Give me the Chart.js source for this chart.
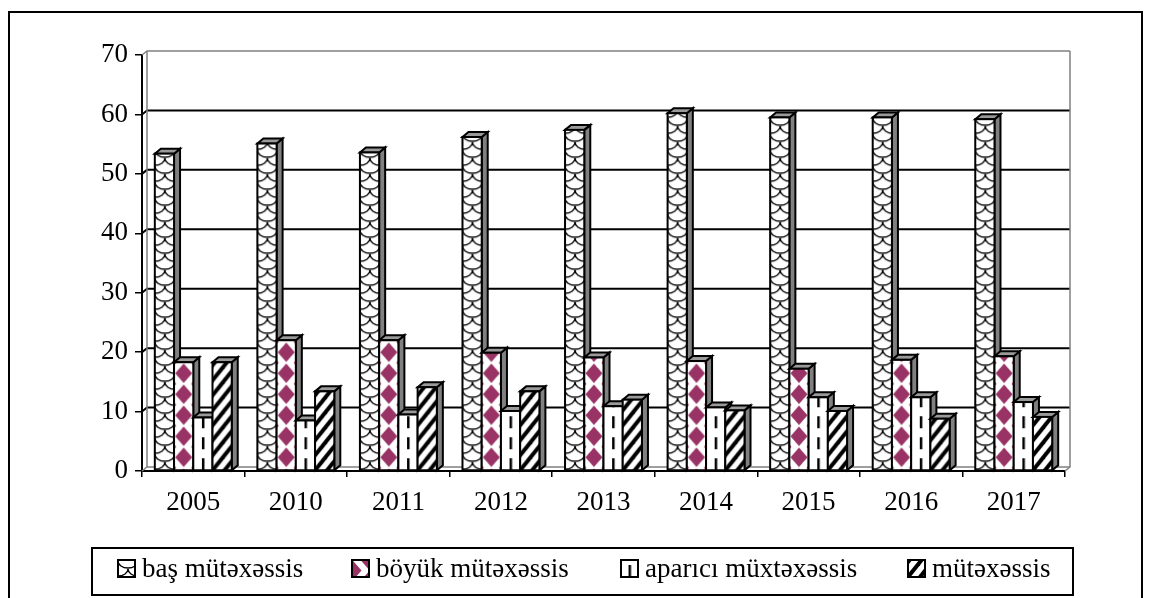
<!DOCTYPE html>
<html>
<head>
<meta charset="utf-8">
<title>Mütəxəssislər, 2005–2017</title>
<script src="https://cdn.jsdelivr.net/npm/chart.js@4.4.1/dist/chart.umd.min.js"></script>
<style>
  html, body { margin: 0; padding: 0; background: #fff; }
  #wrap { width: 1150px; height: 598px; position: relative; background: #fff; }
  canvas { display: block; }
</style>
</head>
<body>
<div id="wrap"><canvas id="chart" width="1150" height="598"></canvas></div>
<script>
// ---- data ----
const years = ['2005', '2010', '2011', '2012', '2013', '2014', '2015', '2016', '2017'];
const seriesNames = ['baş mütəxəssis', 'böyük mütəxəssis', 'aparıcı müxtəxəssis', 'mütəxəssis'];
const basMutexessis   = [53.4, 55.1, 53.6, 56.2, 57.4, 60.2, 59.5, 59.5, 59.2];
const boyukMutexessis = [18.3, 22.0, 22.0, 19.9, 19.1, 18.5, 17.2, 18.7, 19.3];
const apariciMutexessis = [9.0, 8.5, 9.5, 10.1, 10.9, 10.7, 12.4, 12.4, 11.6];
const mutexessis      = [18.3, 13.4, 14.1, 13.4, 12.0, 10.2, 10.1, 8.8, 9.1];
const yTicks = [0, 10, 20, 30, 40, 50, 60, 70];

// ---- look ----
const FONT = '"Liberation Serif", "Times New Roman", serif';
const BAR_DX = 6, BAR_DY = 5;     // bar depth (side / top faces)
const WALL_DX = 5, WALL_DY = 4;   // back wall offset
const WALL_GREY = '#808080';

const canvas = document.getElementById('chart');
const ctx = canvas.getContext('2d');

function tile(w, h, paint) {
  const c = document.createElement('canvas');
  c.width = w; c.height = h;
  const g = c.getContext('2d');
  g.fillStyle = '#fff';
  g.fillRect(0, 0, w, h);
  paint(g, w, h);
  return c;
}

// scale-like arcs
const scalesTile = tile(20, 16, (g, w, h) => {
  g.strokeStyle = '#000';
  g.lineWidth = 1.3;
  for (const ox of [-w, 0, w]) for (const oy of [-h, 0, h]) {
    for (const [cx, cy] of [[w / 2, 0], [0, h / 2]]) {
      g.beginPath();
      g.ellipse(cx + ox, cy + oy, w / 2, h / 2 - 1, 0, 0, Math.PI);
      g.stroke();
    }
  }
});
// solid diamonds
const diamondTile = tile(32, 21, (g, w, h) => {
  g.fillStyle = '#993366';
  const hw = 8.5, hh = 9.8;
  for (const [cx, cy] of [[16, 10.5], [0, 0], [32, 0], [0, 21], [32, 21]]) {
    g.beginPath();
    g.moveTo(cx, cy - hh); g.lineTo(cx + hw, cy); g.lineTo(cx, cy + hh); g.lineTo(cx - hw, cy);
    g.closePath(); g.fill();
  }
});
// dashed vertical
const dashTile = tile(40, 21, (g) => {
  g.fillStyle = '#000';
  g.fillRect(19, 0, 2.5, 12);
});
// wide upward diagonal
const stripeTile = tile(12, 15, (g, w, h) => {
  g.strokeStyle = '#000';
  g.lineWidth = 4;
  for (const ox of [-w, 0, w]) {
    g.beginPath();
    g.moveTo(ox - 2, h + 2.5); g.lineTo(ox + w + 2, -2.5);
    g.stroke();
  }
});

const fills = [
  { pattern: ctx.createPattern(scalesTile, 'repeat'),  origin: (l, r, b) => [l, b] },
  { pattern: ctx.createPattern(diamondTile, 'repeat'), origin: (l, r, b) => [(l + r) / 2 - 16, b - 23.5] },
  { pattern: ctx.createPattern(dashTile, 'repeat'),    origin: (l, r, b) => [(l + r) / 2 - 20, b - 12] },
  { pattern: ctx.createPattern(stripeTile, 'repeat'),  origin: (l, r, b) => [l, b] }
];

function placePattern(i, l, r, b) {
  const [tx, ty] = fills[i].origin(l, r, b);
  fills[i].pattern.setTransform(new DOMMatrix([1, 0, 0, 1, tx, ty]));
  return fills[i].pattern;
}

// back wall, floor and side wall with grid lines
const wallPlugin = {
  id: 'wall3d',
  beforeDatasetsDraw(chart) {
    const c = chart.ctx, a = chart.chartArea, ys = chart.scales.y;
    c.save();
    c.lineCap = 'butt';
    const first = yTicks[0], last = yTicks[yTicks.length - 1];
    yTicks.forEach(v => {
      const py = ys.getPixelForValue(v);
      const edge = (v === first || v === last);
      c.strokeStyle = edge ? WALL_GREY : '#000';
      c.lineWidth = edge ? 1.5 : 2;
      c.beginPath();
      c.moveTo(a.left, py);
      c.lineTo(a.left + WALL_DX, py - WALL_DY);
      c.lineTo(a.right + WALL_DX, py - WALL_DY);
      c.stroke();
    });
    const top = ys.getPixelForValue(last) - WALL_DY, bot = ys.getPixelForValue(first) - WALL_DY;
    c.strokeStyle = WALL_GREY;
    c.lineWidth = 1.5;
    c.beginPath();
    c.moveTo(a.left + WALL_DX, top); c.lineTo(a.left + WALL_DX, bot);
    c.moveTo(a.right + WALL_DX, top); c.lineTo(a.right + WALL_DX, bot);
    c.lineTo(a.right, bot + WALL_DY);
    c.stroke();
    c.restore();
  }
};

// columns drawn as boxes: front (pattern), right side and top faces
const columnPlugin = {
  id: 'columns3d',
  beforeDatasetsDraw(chart) {
    const c = chart.ctx;
    const metas = chart.data.datasets.map((d, i) => chart.getDatasetMeta(i));
    c.save();
    c.strokeStyle = '#000';
    c.lineWidth = 2;
    c.lineJoin = 'miter';
    for (let j = 0; j < years.length; j++) {
      metas.forEach((meta, i) => {
        const el = meta.data[j];
        if (!el) return;
        const { x, y, base, width } = el.getProps(['x', 'y', 'base', 'width'], true);
        const l = x - width / 2, r = x + width / 2, t = y, b = base;
        // side face
        c.beginPath();
        c.moveTo(r, t); c.lineTo(r + BAR_DX, t - BAR_DY); c.lineTo(r + BAR_DX, b - BAR_DY); c.lineTo(r, b);
        c.closePath();
        c.fillStyle = '#808080'; c.fill(); c.stroke();
        // top face
        c.beginPath();
        c.moveTo(l, t); c.lineTo(l + BAR_DX, t - BAR_DY); c.lineTo(r + BAR_DX, t - BAR_DY); c.lineTo(r, t);
        c.closePath();
        c.fillStyle = '#9a9a9a'; c.fill(); c.stroke();
        // front face
        c.fillStyle = placePattern(i, l, r, b);
        c.fillRect(l, t, r - l, b - t);
        c.strokeRect(l, t, r - l, b - t);
      });
    }
    c.restore();
    return false;
  }
};

// boxed legend and outer frame
const framePlugin = {
  id: 'frameLegend',
  afterDraw(chart) {
    const c = chart.ctx;
    c.save();
    c.strokeStyle = '#000';
    c.lineWidth = 2;
    c.strokeRect(9, 12, 1133, 600);
    c.strokeRect(92, 548, 981, 47);
    const iconX = [118, 352, 621, 908];
    const iconY = 560, S = 17;
    c.font = '27px ' + FONT;
    c.fillStyle = '#000';
    c.textBaseline = 'alphabetic';
    chart.data.datasets.forEach((ds, i) => {
      const x0 = iconX[i];
      const pat = placePattern(i, x0, x0 + S, iconY + S);
      if (i === 1) pat.setTransform(new DOMMatrix([1, 0, 0, 1, x0 + S - 32, iconY]));
      c.fillStyle = pat;
      c.fillRect(x0, iconY, S, S);
      c.lineWidth = 2;
      c.strokeRect(x0, iconY, S, S);
      c.fillStyle = '#000';
      c.fillText(ds.label, x0 + S + 7, 577);
    });
    c.restore();
  }
};

const seriesValues = [basMutexessis, boyukMutexessis, apariciMutexessis, mutexessis];

new Chart(ctx, {
  type: 'bar',
  data: {
    labels: years,
    datasets: seriesNames.map((name, i) => ({
      label: name,
      data: seriesValues[i],
      backgroundColor: fills[i].pattern,
      borderColor: '#000',
      borderWidth: 2
    }))
  },
  options: {
    responsive: false,
    animation: false,
    devicePixelRatio: 1,
    layout: { padding: { top: 55, left: 0, right: 85, bottom: 0 } },
    datasets: { bar: { categoryPercentage: 0.75, barPercentage: 1 } },
    plugins: { legend: { display: false }, tooltip: { enabled: false } },
    scales: {
      x: {
        grid: { offset: true, drawOnChartArea: false, drawTicks: true, tickLength: 6, color: '#000', lineWidth: 1.5 },
        border: { display: true, color: '#000', width: 2 },
        ticks: { font: { family: FONT, size: 27 }, color: '#000', padding: 10, maxRotation: 0, autoSkip: false },
        afterFit(s) { s.height = 127; }
      },
      y: {
        min: yTicks[0],
        max: yTicks[yTicks.length - 1],
        ticks: { stepSize: yTicks[1] - yTicks[0], font: { family: FONT, size: 27 }, color: '#000', padding: 7 },
        grid: { drawOnChartArea: false, drawTicks: true, tickLength: 7, color: '#000', lineWidth: 1.5 },
        border: { display: true, color: '#000', width: 2 },
        afterFit(s) { s.width = 142; }
      }
    }
  },
  plugins: [wallPlugin, columnPlugin, framePlugin]
});
</script>
</body>
</html>
